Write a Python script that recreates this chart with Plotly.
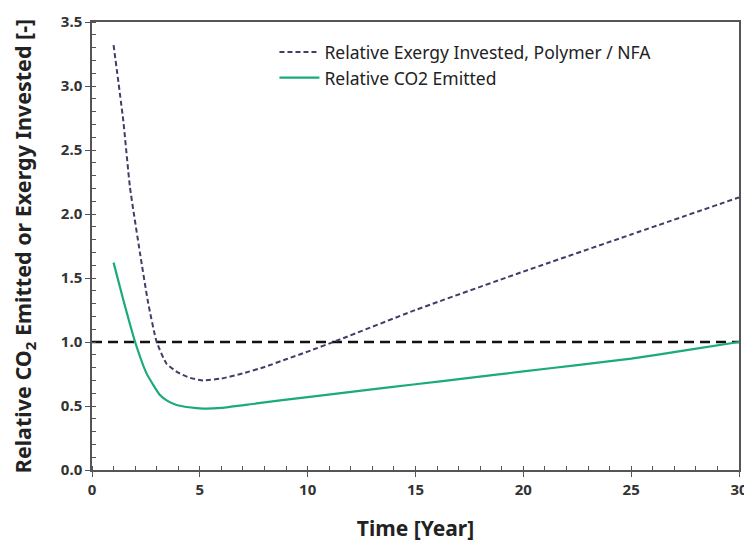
import plotly.graph_objects as go

# Relative Exergy Invested, Polymer / NFA
exergy_year = [1, 1.45, 1.76, 2.23, 2.61, 3.0, 3.46, 4.0, 4.54, 5.15, 6, 7, 8, 9, 10, 11.5, 15, 20, 25, 30]
exergy_val = [3.32, 2.73, 2.21, 1.69, 1.30, 1.0, 0.83, 0.76, 0.72, 0.70, 0.715, 0.755, 0.805, 0.865, 0.925, 1.02, 1.25, 1.55, 1.84, 2.13]

# Relative CO2 Emitted
co2_year = [1, 1.45, 2.0, 2.53, 3.15, 3.5, 3.92, 4.5, 5.15, 6, 7.63, 10, 12.5, 15, 17.5, 20, 22.5, 25, 27.5, 30]
co2_val = [1.62, 1.33, 1.0, 0.755, 0.586, 0.54, 0.508, 0.49, 0.48, 0.485, 0.52, 0.57, 0.62, 0.67, 0.72, 0.77, 0.82, 0.87, 0.935, 1.0]

# Break-even reference
ref_year = [0, 30]
ref_val = [1.0, 1.0]

FONT = "Noto Sans"

fig = go.Figure()
fig.add_trace(go.Scatter(
    x=ref_year, y=ref_val, mode="lines", showlegend=False,
    line=dict(color="#111111", width=2.5, dash="10px,6px"), hoverinfo="skip"))
fig.add_trace(go.Scatter(
    x=exergy_year, y=exergy_val, mode="lines",
    name="Relative Exergy Invested, Polymer / NFA",
    line=dict(color="#3e3e68", width=2, dash="5px,3px", shape="spline", smoothing=0.5)))
fig.add_trace(go.Scatter(
    x=co2_year, y=co2_val, mode="lines",
    name="Relative CO2 Emitted",
    line=dict(color="#1aab78", width=2.2, shape="spline", smoothing=0.5)))

axis_common = dict(
    showgrid=False, zeroline=False, showline=True, linecolor="#555555", linewidth=1.5,
    mirror=True, ticks="outside", ticklen=5, tickcolor="#555555", automargin=False,
    tickfont=dict(family=FONT, size=15, color="#333333", weight="bold"),
)

fig.update_xaxes(
    **axis_common, range=[0, 30], dtick=5, tick0=0,
    minor=dict(dtick=1, ticks="inside", ticklen=4, tickcolor="#555555", showgrid=False),
    title=dict(text="<b>Time [Year]</b>", font=dict(family=FONT, size=21, color="#222222"), standoff=35),
)
fig.update_yaxes(
    **axis_common, range=[0, 3.5], dtick=0.5, tick0=0, tickformat=".1f",
    minor=dict(dtick=0.1, ticks="inside", ticklen=4, tickcolor="#555555", showgrid=False),
    title=dict(text="<b>Relative CO<sub>2</sub> Emitted or Exergy Invested [-]</b>",
               font=dict(family=FONT, size=21.5, color="#222222"), standoff=25),
)

# the page body adds an 8px margin, so the figure is sized to fit inside it
fig.update_layout(
    width=744, height=534,
    margin=dict(l=84, r=13, t=14, b=72),
    paper_bgcolor="white", plot_bgcolor="white",
    font=dict(family=FONT),
    legend=dict(x=0.282, y=0.973, xanchor="left", yanchor="top",
                bgcolor="rgba(0,0,0,0)", font=dict(family=FONT, size=17.5, color="#222222"),
                itemwidth=40, tracegroupgap=0),
)

fig.write_html("out.html")
